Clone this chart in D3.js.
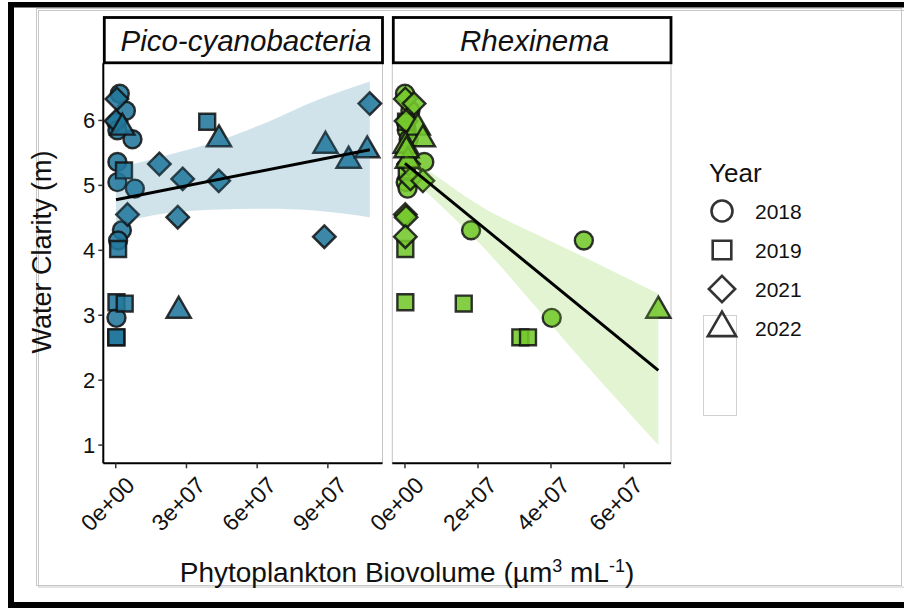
<!DOCTYPE html>
<html><head><meta charset="utf-8">
<script src="https://cdn.jsdelivr.net/npm/d3@7"></script>
<style>body{margin:0;background:#fff}svg{display:block}text{font-family:Arial,"Liberation Sans",sans-serif;fill:#111}</style>
</head><body><svg id="c" width="904" height="608"></svg>
<script>
// ---------------- data ----------------
const years = ["2018", "2019", "2021", "2022"];
const sampleYear = [
  "2018","2018","2018","2018","2018","2018","2018","2018","2018","2018","2018",
  "2019","2019","2019","2019","2019","2019","2019",
  "2021","2021","2021","2021","2021","2021","2021","2021","2021",
  "2022","2022","2022","2022","2022","2022"];
const clarity = [
  6.41, 6.15, 5.97, 5.85, 5.71, 5.36, 5.05, 4.95, 4.31, 4.15, 2.96,
  5.98, 5.23, 4.02, 3.20, 3.18, 2.66, 2.66,
  6.33, 5.99, 5.33, 5.10, 5.07, 4.55, 4.51, 4.21, 6.26,
  5.89, 5.71, 5.61, 5.38, 5.54, 3.07];
const picoBiovolume = [
  1.7e6, 4.3e6, 0.3e6, 0.7e6, 7.1e6, 0.7e6, 0.7e6, 8.1e6, 2.6e6, 1.0e6, 0.3e6,
  3.88e7, 3.5e6, 1.0e6, 0.3e6, 3.8e6, 0.3e6, 0.2e6,
  0.5e6, 0.1e6, 1.85e7, 2.84e7, 4.37e7, 5.0e6, 2.63e7, 8.85e7, 1.078e8,
  2.8e6, 4.38e7, 8.9e7, 9.88e7, 1.067e8, 2.67e7];
const rhexBiovolume = [
  0, 1.5e6, 0.3e6, 0.5e6, 1.0e6, 5.3e6, 0.2e6, 0.7e6, 1.81e7, 4.9e7, 4.02e7,
  0.3e6, 0.5e6, 0.1e6, 0.1e6, 1.61e7, 3.16e7, 3.37e7,
  0.1e6, 0.3e6, 1.0e6, 1.5e6, 4.9e6, 0.1e6, 0.3e6, 0.1e6, 2.5e6,
  3.5e6, 4.9e6, 0.2e6, 0.8e6, 0.4e6, 6.94e7];

// fitted lines and confidence bands
const picoFitX = [0.1e6, 1.078e8];
const picoFitY = [4.78, 5.55];
const picoBandX = [0.1e6, 2.13e7, 4.38e7, 6.4e7, 8.53e7, 1.078e8];
const picoBandLo = [4.41, 4.57, 4.63, 4.64, 4.61, 4.51];
const picoBandHi = [5.26, 5.46, 5.69, 5.97, 6.31, 6.60];

const rhexFitX = [0, 6.94e7];
const rhexFitY = [5.34, 2.15];
const rhexBandX = [0, 5.3e6, 2.19e7, 3.58e7, 5.0e7, 6.94e7];
const rhexBandLo = [5.21, 4.93, 4.02, 3.13, 2.21, 1.00];
const rhexBandHi = [5.47, 5.27, 4.64, 4.25, 3.87, 3.33];

const picoTicks = [0, 3e7, 6e7, 9e7];
const rhexTicks = [0, 2e7, 4e7, 6e7];
const yTicks = [1, 2, 3, 4, 5, 6];

const panelNames = ["Pico-cyanobacteria", "Rhexinema"];

// ---------------- layout ----------------
const svg = d3.select("#c");
const panelTop = 63.3, panelBottom = 463.3;
const panels = [
  {name: panelNames[0], xs: picoBiovolume, fitX: picoFitX, fitY: picoFitY,
   bandX: picoBandX, lo: picoBandLo, hi: picoBandHi, ticks: picoTicks,
   fill: "#22789c", band: "#2a7fa2", left: 103.3, right: 382.5, yAxis: true},
  {name: panelNames[1], xs: rhexBiovolume, fitX: rhexFitX, fitY: rhexFitY,
   bandX: rhexBandX, lo: rhexBandLo, hi: rhexBandHi, ticks: rhexTicks,
   fill: "#74c82c", band: "#7acb30", left: 392.3, right: 671, yAxis: false}
];

// y scale from all layers with 5% expansion
const yMin = d3.min([d3.min(clarity), d3.min(picoBandLo), d3.min(rhexBandLo)]);
const yMax = d3.max([d3.max(clarity), d3.max(picoBandHi), d3.max(rhexBandHi)]);
const yPad = (yMax - yMin) * 0.05;
const y = d3.scaleLinear().domain([yMin - yPad, yMax + yPad]).range([panelBottom, panelTop]);

// outer frame
svg.append("rect").attr("x", 0).attr("y", 0).attr("width", 904).attr("height", 608).attr("fill", "#fff");
svg.append("rect").attr("x", 36.5).attr("y", 8.5).attr("width", 865).attr("height", 577)
  .attr("fill", "none").attr("stroke", "#c8c8c8").attr("stroke-width", 1);
svg.append("rect").attr("x", 38.5).attr("y", 10.5).attr("width", 870).attr("height", 576.5)
  .attr("fill", "none").attr("stroke", "#c8c8c8").attr("stroke-width", 1);
svg.append("rect").attr("x", 8).attr("y", 2).attr("width", 896).attr("height", 5.5).attr("fill", "#000");
svg.append("rect").attr("x", 8).attr("y", 2).attr("width", 6).attr("height", 606).attr("fill", "#000");
svg.append("rect").attr("x", 8).attr("y", 602).attr("width", 896).attr("height", 6).attr("fill", "#000");

// shape paths (R pch 21-24 geometry)
function shapePath(year, r) {
  if (year === "2018") {
    const p = d3.path(); p.moveTo(r, 0); p.arc(0, 0, r, 0, 2 * Math.PI); p.closePath(); return p.toString();
  }
  if (year === "2019") {
    const s = r * 0.886;
    return `M${-s},${-s}L${s},${-s}L${s},${s}L${-s},${s}Z`;
  }
  if (year === "2021") {
    const h = r * 1.253;
    return `M0,${-h}L${h},0L0,${h}L${-h},0Z`;
  }
  const t0 = 1.555 * r, t1 = 1.347 * r, t2 = 0.778 * r;
  return `M0,${-t0}L${t1},${t2}L${-t1},${t2}Z`;
}

function sci(d) {
  if (d === 0) return "0e+00";
  const e = Math.floor(Math.log10(d));
  const m = Math.round(d / Math.pow(10, e));
  return m + "e+" + String(e).padStart(2, "0");
}

panels.forEach(p => {
  const xMin = d3.min(p.xs.concat(p.bandX)), xMax = d3.max(p.xs.concat(p.bandX));
  const xPad = (xMax - xMin) * 0.05;
  const x = d3.scaleLinear().domain([xMin - xPad, xMax + xPad]).range([p.left, p.right]);
  const g = svg.append("g");

  // panel border (light grey)
  g.append("rect").attr("x", p.left).attr("y", panelTop).attr("width", p.right - p.left)
    .attr("height", panelBottom - panelTop).attr("fill", "#fff")
    .attr("stroke", "#c4c4c4").attr("stroke-width", 1);

  // points
  const idx = d3.range(clarity.length);
  g.append("g").selectAll("path").data(idx).join("path")
    .attr("d", i => shapePath(sampleYear[i], 9))
    .attr("transform", i => `translate(${x(p.xs[i])},${y(clarity[i])})`)
    .attr("fill", p.fill).attr("fill-opacity", 0.88)
    .attr("stroke", "#111").attr("stroke-opacity", 0.85).attr("stroke-width", 2.4);

  // confidence band
  const band = d3.area().x((d, i) => x(p.bandX[i])).y0((d, i) => y(p.lo[i])).y1((d, i) => y(p.hi[i]))
    .curve(d3.curveMonotoneX);
  g.append("path").attr("d", band(p.bandX)).attr("fill", p.band).attr("fill-opacity", 0.22);

  // fit line
  g.append("line").attr("x1", x(p.fitX[0])).attr("y1", y(p.fitY[0]))
    .attr("x2", x(p.fitX[1])).attr("y2", y(p.fitY[1]))
    .attr("stroke", "#000").attr("stroke-width", 3);

  // x axis
  const xa = g.append("g");
  xa.append("line").attr("x1", p.left).attr("x2", p.right).attr("y1", panelBottom).attr("y2", panelBottom)
    .attr("stroke", "#000").attr("stroke-width", 2);
  p.ticks.forEach(t => {
    xa.append("line").attr("x1", x(t)).attr("x2", x(t)).attr("y1", panelBottom).attr("y2", panelBottom + 5)
      .attr("stroke", "#333").attr("stroke-width", 1.5);
    xa.append("text").attr("transform", `translate(${x(t) + 9},${panelBottom + 12}) rotate(-45)`)
      .attr("text-anchor", "end").attr("dy", "0.7em").attr("font-size", 23).text(sci(t));
  });

  // y axis
  if (p.yAxis) {
    g.append("line").attr("x1", p.left).attr("x2", p.left).attr("y1", panelTop).attr("y2", panelBottom)
      .attr("stroke", "#000").attr("stroke-width", 2);
    yTicks.forEach(t => {
      g.append("line").attr("x1", p.left - 5).attr("x2", p.left).attr("y1", y(t)).attr("y2", y(t))
        .attr("stroke", "#333").attr("stroke-width", 1.5);
      g.append("text").attr("x", p.left - 8).attr("y", y(t)).attr("dy", "0.36em")
        .attr("text-anchor", "end").attr("font-size", 22).text(t);
    });
  }

  // strip
  g.append("rect").attr("x", p.left + 1).attr("y", 17.5).attr("width", p.right - p.left - 1)
    .attr("height", panelTop - 18).attr("fill", "#fff").attr("stroke", "#000").attr("stroke-width", 2.8);
  g.append("text").attr("x", (p.left + p.right) / 2 + 3).attr("y", 51).attr("text-anchor", "middle")
    .attr("font-size", 29.5).attr("font-style", "italic").text(p.name);
});

// axis titles
svg.append("text").attr("transform", "translate(51,252) rotate(-90)").attr("text-anchor", "middle")
  .attr("font-size", 27).text("Water Clarity (m)");
const xt = svg.append("text").attr("x", 407).attr("y", 582).attr("text-anchor", "middle").attr("font-size", 28);
xt.append("tspan").text("Phytoplankton Biovolume (µm");
xt.append("tspan").attr("font-size", 18).attr("dy", -10).text("3");
xt.append("tspan").attr("dy", 10).text(" mL");
xt.append("tspan").attr("font-size", 18).attr("dy", -10).text("-1");
xt.append("tspan").attr("dy", 10).text(")");

// legend
const lg = svg.append("g");
lg.append("text").attr("x", 709).attr("y", 182).attr("font-size", 26).text("Year");
lg.append("rect").attr("x", 703.5).attr("y", 315.5).attr("width", 33).attr("height", 100)
  .attr("fill", "#fff").attr("stroke", "#d0d0d0").attr("stroke-width", 1);
years.forEach((yr, i) => {
  const cy = 211 + i * 39;
  lg.append("path").attr("d", shapePath(yr, 10.5)).attr("transform", `translate(722,${cy})`)
    .attr("fill", "none").attr("stroke", "#333").attr("stroke-width", 2.6);
  lg.append("text").attr("x", 755).attr("y", cy).attr("dy", "0.36em").attr("font-size", 21).text(yr);
});
</script>
</body></html>
